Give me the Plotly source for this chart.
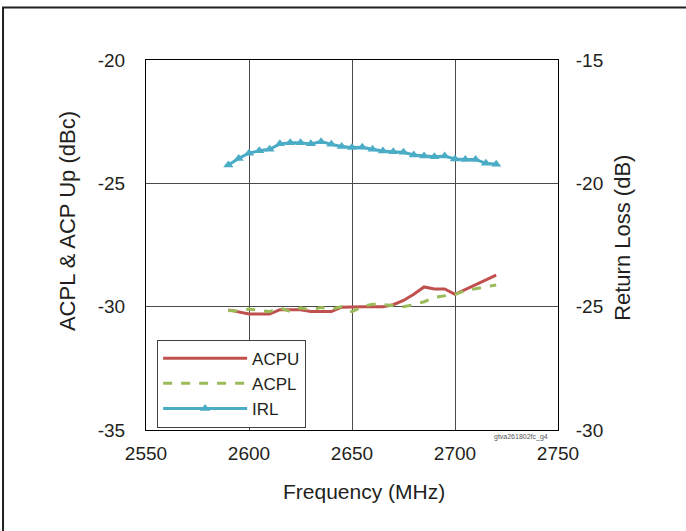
import plotly.graph_objects as go

freq = [2590, 2595, 2600, 2605, 2610, 2615, 2620, 2625, 2630, 2635, 2640, 2645, 2650, 2655,
        2660, 2665, 2670, 2675, 2680, 2685, 2690, 2695, 2700, 2705, 2710, 2715, 2720]

acpu = [-30.13, -30.22, -30.30, -30.30, -30.30, -30.12, -30.12, -30.13, -30.20, -30.20,
        -30.20, -30.02, -30.00, -30.00, -30.00, -30.00, -29.92, -29.75, -29.50, -29.20,
        -29.28, -29.28, -29.50, -29.30, -29.10, -28.90, -28.72]

acpl = [-30.16, -30.18, -30.10, -30.15, -30.20, -30.05, -30.20, -30.05, -30.13, -30.03,
        -30.10, -30.00, -30.20, -30.00, -29.90, -29.92, -29.96, -30.00, -29.92, -29.80,
        -29.62, -29.55, -29.50, -29.35, -29.28, -29.20, -29.12]

irl = [-19.26, -18.99, -18.78, -18.68, -18.62, -18.40, -18.35, -18.35, -18.40, -18.31,
       -18.42, -18.51, -18.55, -18.54, -18.62, -18.69, -18.72, -18.74, -18.85, -18.89,
       -18.92, -18.89, -19.01, -19.03, -19.03, -19.19, -19.23]

x_ticks = [2550, 2600, 2650, 2700, 2750]
left_ticks = [-35, -30, -25, -20]
left_labels = ["-35", "-30", "-25", "-20"]
right_ticks = [-30, -25, -20, -15]
right_labels = ["-30", "-25", "-20", "-15"]

FONT = "Liberation Sans, Arial, sans-serif"
TXT = "#231f20"

fig = go.Figure()
fig.add_trace(go.Scatter(x=freq, y=acpu, name="ACPU", mode="lines",
                         line=dict(color="#C0504D", width=3)))
fig.add_trace(go.Scatter(x=freq, y=acpl, name="ACPL", mode="lines",
                         line=dict(color="#9BBB59", width=3, dash="dash")))
fig.add_trace(go.Scatter(x=freq, y=irl, name="IRL", mode="lines+markers", yaxis="y2",
                         line=dict(color="#4BACC6", width=3),
                         marker=dict(symbol="triangle-up", size=9, color="#4BACC6")))

grid = "#4a4a4a"
fig.update_layout(
    width=686, height=531,
    margin=dict(l=146, r=128, t=60, b=101),
    paper_bgcolor="white", plot_bgcolor="white",
    font=dict(family=FONT, color=TXT, size=19),
    showlegend=True,
    legend=dict(x=0.027, y=0.244, xanchor="left", yanchor="top",
                bordercolor="#404040", borderwidth=1, bgcolor="white",
                font=dict(size=17, family=FONT, color=TXT),
                itemwidth=84, tracegroupgap=0),
    xaxis=dict(range=[2550, 2750], tickvals=x_ticks, showgrid=True, gridcolor=grid,
               gridwidth=1, showline=True, linecolor="black", linewidth=1, mirror=True,
               ticks="outside", ticklen=6, tickcolor="rgba(0,0,0,0)", zeroline=False,
               tickfont=dict(size=19)),
    yaxis=dict(range=[-35, -20], tickvals=left_ticks, ticktext=left_labels, showgrid=True,
               gridcolor=grid, gridwidth=1, showline=True, linecolor="black", linewidth=1,
               mirror=True, ticks="outside", ticklen=16, tickcolor="rgba(0,0,0,0)",
               zeroline=False, tickfont=dict(size=19)),
    yaxis2=dict(range=[-30, -15], tickvals=right_ticks, ticktext=right_labels,
                overlaying="y", side="right",
                showgrid=False, showline=False, zeroline=False,
                ticks="outside", ticklen=13, tickcolor="rgba(0,0,0,0)",
                tickfont=dict(size=19)),
)

# axis titles placed as annotations (positions in paper units of the plot area)
fig.add_annotation(text="Frequency (MHz)", xref="paper", yref="paper", x=0.530, y=-0.165,
                   xanchor="center", yanchor="middle", showarrow=False, font=dict(size=21))
fig.add_annotation(text="ACPL & ACP Up (dBc)", xref="paper", yref="paper", x=-0.189, y=0.565,
                   xanchor="center", yanchor="middle", showarrow=False, textangle=-90,
                   font=dict(size=22))
fig.add_annotation(text="Return Loss (dB)", xref="paper", yref="paper", x=1.156, y=0.52,
                   xanchor="center", yanchor="middle", showarrow=False, textangle=-90,
                   font=dict(size=22))

# outer frame (top and left edges visible; right/bottom fall outside the page)
fig.add_shape(type="rect", xref="paper", yref="paper", x0=-0.347, x1=1.5, y0=-0.5, y1=1.142,
              line=dict(color="#231f20", width=2), fillcolor="rgba(0,0,0,0)", layer="above")

fig.add_annotation(text="gtva261802fc_g4", xref="paper", yref="paper", x=0.98, y=-0.003,
                   xanchor="right", yanchor="top", showarrow=False,
                   font=dict(size=7, color="#555555", family=FONT))

fig.write_html("out.html", config={"displayModeBar": False},
               post_script="document.body.style.margin='0';")
